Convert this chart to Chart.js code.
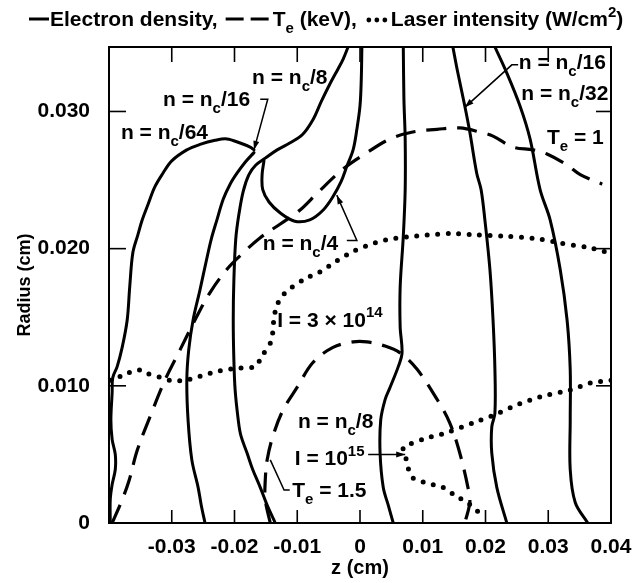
<!DOCTYPE html>
<html>
<head>
<meta charset="utf-8">
<script src="https://cdn.jsdelivr.net/npm/chart.js@4.4.1/dist/chart.umd.min.js"></script>
<style>
  html, body { margin: 0; padding: 0; background: #fff; }
  #wrap { width: 637px; height: 583px; }
</style>
</head>
<body>
<div id="wrap"><canvas id="chart" width="637" height="583"></canvas></div>
<script>
// contour lines, each point is [z (cm), radius (cm)]

// electron density contours (solid)
var nc64Left = [[-0.0398,0],[-0.0398,0.0017],[-0.0395,0.0028],[-0.0390,0.0039],[-0.0390,0.0050],[-0.0395,0.0061],[-0.0397,0.0075],[-0.0395,0.0095],[-0.0394,0.0106],[-0.0387,0.0114],[-0.0379,0.0128],[-0.0371,0.0148],[-0.0367,0.0172],[-0.0362,0.0197],[-0.0354,0.0210],[-0.0347,0.0221],[-0.0338,0.0232],[-0.0327,0.0245],[-0.0314,0.0255],[-0.0300,0.0264],[-0.0276,0.0272],[-0.0255,0.0276],[-0.0231,0.0279],[-0.0212,0.0280],[-0.0191,0.0277],[-0.0175,0.0274],[-0.0169,0.0272]];
var nc16Left = [[-0.0247,0],[-0.0253,0.0013],[-0.0258,0.0026],[-0.0268,0.0046],[-0.0274,0.0075],[-0.0276,0.0104],[-0.0273,0.0126],[-0.0266,0.0148],[-0.0255,0.0170],[-0.0245,0.0191],[-0.0237,0.0207],[-0.0228,0.0221],[-0.0218,0.0236],[-0.0207,0.0247],[-0.0196,0.0255],[-0.0183,0.0263],[-0.0169,0.0270]];
var nc8Left = [[-0.0135,0],[-0.0148,0.0013],[-0.0159,0.0026],[-0.0171,0.0039],[-0.0180,0.0051],[-0.0190,0.0064],[-0.0194,0.0075],[-0.0199,0.0097],[-0.0201,0.0119],[-0.0202,0.0148],[-0.0201,0.0177],[-0.0198,0.0207],[-0.0193,0.0225],[-0.0186,0.0242],[-0.0177,0.0254],[-0.0166,0.0261],[-0.0151,0.0266],[-0.0132,0.0272],[-0.0112,0.0277],[-0.0092,0.0283],[-0.0075,0.0294],[-0.0062,0.0307],[-0.0048,0.0320],[-0.0035,0.0331],[-0.0027,0.0338],[-0.0019,0.0347]];
var nc4Loop = [[0.0003,0.0347],[0.0002,0.0323],[0.0000,0.0304],[-0.0005,0.0287],[-0.0011,0.0272],[-0.0021,0.0260],[-0.0030,0.0249],[-0.0043,0.0238],[-0.0059,0.0228],[-0.0080,0.0221],[-0.0104,0.0220],[-0.0127,0.0226],[-0.0145,0.0234],[-0.0155,0.0243],[-0.0156,0.0254],[-0.0153,0.0264]];
var nc8Right = [[0.0053,0],[0.0045,0.0013],[0.0037,0.0026],[0.0032,0.0051],[0.0033,0.0075],[0.0040,0.0090],[0.0048,0.0099],[0.0061,0.0114],[0.0067,0.0124],[0.0064,0.0143],[0.0064,0.0172],[0.0069,0.0209],[0.0072,0.0243],[0.0072,0.0280],[0.0070,0.0309],[0.0069,0.0347]];
var nc16Right = [[0.0234,0],[0.0218,0.0026],[0.0210,0.0051],[0.0210,0.0070],[0.0215,0.0080],[0.0215,0.0112],[0.0212,0.0148],[0.0207,0.0185],[0.0199,0.0221],[0.0193,0.0243],[0.0186,0.0255],[0.0175,0.0285],[0.0167,0.0304],[0.0156,0.0328],[0.0148,0.0347]];
var nc32Right = [[0.0363,0],[0.0343,0.0015],[0.0335,0.0039],[0.0335,0.0075],[0.0335,0.0112],[0.0330,0.0148],[0.0319,0.0185],[0.0303,0.0221],[0.0287,0.0243],[0.0271,0.0280],[0.0255,0.0304],[0.0234,0.0328],[0.0215,0.0347]];

// electron temperature contours (dashed)
var te1 = [[-0.0395,0],[-0.0379,0.0017],[-0.0368,0.0031],[-0.0355,0.0053],[-0.0335,0.0077],[-0.0311,0.0104],[-0.0287,0.0126],[-0.0263,0.0148],[-0.0239,0.0168],[-0.0212,0.0185],[-0.0186,0.0197],[-0.0159,0.0208],[-0.0127,0.0218],[-0.0096,0.0228],[-0.0067,0.0241],[-0.0027,0.0258],[0.0011,0.0270],[0.0048,0.0280],[0.0084,0.0285],[0.0123,0.0287],[0.0159,0.0288],[0.0191,0.0285],[0.0212,0.0282],[0.0244,0.0274],[0.0276,0.0272],[0.0298,0.0269],[0.0330,0.0261],[0.0351,0.0254],[0.0386,0.0247]];
var te15 = [[-0.0143,0],[-0.0151,0.0017],[-0.0151,0.0031],[-0.0148,0.0046],[-0.0139,0.0063],[-0.0123,0.0082],[-0.0100,0.0099],[-0.0075,0.0117],[-0.0043,0.0128],[-0.0011,0.0132],[0.0011,0.0132],[0.0040,0.0129],[0.0064,0.0124],[0.0091,0.0112],[0.0123,0.0090],[0.0143,0.0073],[0.0159,0.0051],[0.0172,0.0026],[0.0175,0.0015],[0.0167,0]];

// laser intensity contours (dotted)
var laser3e14 = [[-0.0398,0.0104],[-0.0371,0.0109],[-0.0355,0.0112],[-0.0339,0.0109],[-0.0324,0.0107],[-0.0303,0.0104],[-0.0279,0.0104],[-0.0255,0.0107],[-0.0223,0.0111],[-0.0191,0.0113],[-0.0167,0.0114],[-0.0156,0.0122],[-0.0143,0.0131],[-0.0139,0.0139],[-0.0137,0.0150],[-0.0132,0.0159],[-0.0123,0.0166],[-0.0108,0.0172],[-0.0088,0.0178],[-0.0064,0.0183],[-0.0037,0.0191],[-0.0011,0.0198],[0.0016,0.0203],[0.0048,0.0207],[0.0084,0.0209],[0.0107,0.0210],[0.0143,0.0211],[0.0186,0.0210],[0.0234,0.0209],[0.0287,0.0207],[0.0319,0.0204],[0.0362,0.0201],[0.0398,0.0197]];
var laser1e15 = [[0.0400,0.0104],[0.0367,0.0102],[0.0335,0.0097],[0.0287,0.0092],[0.0244,0.0085],[0.0215,0.0079],[0.0180,0.0073],[0.0139,0.0066],[0.0100,0.0061],[0.0069,0.0055],[0.0072,0.0050],[0.0076,0.0041],[0.0084,0.0033],[0.0107,0.0029],[0.0132,0.0026],[0.0155,0.0019],[0.0171,0.0015],[0.0186,0.0009],[0.0199,0.0004]];

// axes
var xTickValues = [-0.03, -0.02, -0.01, 0, 0.01, 0.02, 0.03, 0.04];
var xTickLabels = ['-0.03', '-0.02', '-0.01', '0', '0.01', '0.02', '0.03', '0.04'];
var yTickValues = [0, 0.01, 0.02, 0.03];
var yTickLabels = ['0', '0.010', '0.020', '0.030'];

// in-plot labels: [z, r] of the text's left end on its baseline
var plotLabels = [
  { at: [-0.0381, 0.0280], parts: [['n = n'], ['c', 'sub'], ['/64']] },
  { at: [-0.0314, 0.0304], parts: [['n = n'], ['c', 'sub'], ['/16']] },
  { at: [-0.0172, 0.0320], parts: [['n = n'], ['c', 'sub'], ['/8']] },
  { at: [0.0253, 0.0331], parts: [['n = n'], ['c', 'sub'], ['/16']] },
  { at: [0.0257, 0.0308], parts: [['n = n'], ['c', 'sub'], ['/32']] },
  { at: [0.0298, 0.0276], parts: [['T'], ['e', 'sub'], [' = 1']] },
  { at: [-0.0155, 0.0199], parts: [['n = n'], ['c', 'sub'], ['/4']] },
  { at: [-0.0132, 0.0143], parts: [['I = 3 \u00D7 10'], ['14', 'sup']] },
  { at: [-0.0099, 0.0069], parts: [['n = n'], ['c', 'sub'], ['/8']] },
  { at: [-0.0104, 0.0042], parts: [['I = 10'], ['15', 'sup']] },
  { at: [-0.0108, 0.0019], parts: [['T'], ['e', 'sub'], [' = 1.5']] }
];
var leaderLines = [
  { pts: [[-0.0159, 0.0309], [-0.0147, 0.0309], [-0.0169, 0.0272]], arrow: true },
  { pts: [[0.0252, 0.0334], [0.0242, 0.0334], [0.0167, 0.0303]], arrow: true },
  { pts: [[-0.0021, 0.0206], [-0.0005, 0.0206], [-0.0037, 0.0239]], arrow: true },
  { pts: [[0.0013, 0.0050], [0.0072, 0.0050]], arrow: true },
  { pts: [[-0.0112, 0.0024], [-0.0121, 0.0024], [-0.0143, 0.0046]], arrow: false }
];

var FONT = '"Liberation Sans", Arial, Helvetica, sans-serif';

function toPts(arr) {
  return arr.map(function (p) { return { x: p[0], y: p[1] }; });
}

function solid(arr) {
  return { data: toPts(arr), showLine: true, borderColor: '#000', borderWidth: 3, pointRadius: 0,
    tension: 0.35, borderCapStyle: 'round', borderJoinStyle: 'round', fill: false };
}
function dashed(arr) {
  return { data: toPts(arr), showLine: true, borderColor: '#000', borderWidth: 3.2, pointRadius: 0,
    tension: 0.35, borderDash: [20, 11], borderCapStyle: 'butt', fill: false };
}
function dotted(arr) {
  return { data: toPts(arr), showLine: true, borderColor: '#000', borderWidth: 5, pointRadius: 0,
    tension: 0.25, borderDash: [0, 10.5], borderCapStyle: 'round', fill: false };
}

function drawRich(ctx, x, y, parts, size, weight) {
  parts.forEach(function (p) {
    var small = p[1] === 'sub' || p[1] === 'sup';
    var s = small ? Math.round(size * 0.72) : size;
    ctx.font = weight + ' ' + s + 'px ' + FONT;
    var dy = p[1] === 'sub' ? size * 0.32 : (p[1] === 'sup' ? -size * 0.45 : 0);
    ctx.fillText(p[0], x, y + dy);
    x += ctx.measureText(p[0]).width;
  });
  return x;
}

function seg(ctx, x1, y1, x2, y2) {
  ctx.beginPath();
  ctx.moveTo(x1, y1);
  ctx.lineTo(x2, y2);
  ctx.stroke();
}

// legend line above the plot, laid out like the printed key
function drawLegend(ctx) {
  var y = 26, size = 21, x = 29;
  ctx.fillStyle = '#000';
  ctx.strokeStyle = '#000';
  ctx.textBaseline = 'alphabetic';
  ctx.textAlign = 'left';
  ctx.lineWidth = 3;
  seg(ctx, x, y - 7, x + 20, y - 7);
  x = drawRich(ctx, x + 21, y, [['Electron density,']], size, 'bold');
  x += 8;
  seg(ctx, x, y - 7, x + 18, y - 7);
  seg(ctx, x + 25, y - 7, x + 43, y - 7);
  x = drawRich(ctx, x + 47, y, [['T'], ['e', 'sub'], [' (keV),']], size, 'bold');
  x += 9;
  for (var i = 0; i < 3; i++) {
    ctx.beginPath();
    ctx.arc(x + 3 + i * 8, y - 6, 2.4, 0, Math.PI * 2);
    ctx.fill();
  }
  drawRich(ctx, x + 25, y, [['Laser intensity (W/cm'], ['2', 'sup'], [')']], size, 'bold');
}

var paperPlugin = {
  id: 'paper',
  afterDraw: function (chart) {
    var ctx = chart.ctx, a = chart.chartArea, xs = chart.scales.x, ys = chart.scales.y;
    ctx.save();
    ctx.strokeStyle = '#000';
    ctx.fillStyle = '#000';
    ctx.lineWidth = 2;
    ctx.strokeRect(a.left, a.top, a.right - a.left, a.bottom - a.top);

    // tick marks point inward on all four sides
    ctx.lineWidth = 1.6;
    xTickValues.forEach(function (v) {
      var px = xs.getPixelForValue(v);
      if (px <= a.left + 2 || px >= a.right - 2) return;
      seg(ctx, px, a.bottom, px, a.bottom - 13);
      seg(ctx, px, a.top, px, a.top + 15);
    });
    yTickValues.forEach(function (v) {
      var py = ys.getPixelForValue(v);
      if (py >= a.bottom - 2 || py <= a.top + 2) return;
      seg(ctx, a.left, py, a.left + 17, py);
      seg(ctx, a.right, py, a.right - 15, py);
    });

    // leader lines and arrows
    ctx.lineWidth = 1.5;
    leaderLines.forEach(function (l) {
      var pts = l.pts.map(function (p) { return [xs.getPixelForValue(p[0]), ys.getPixelForValue(p[1])]; });
      ctx.beginPath();
      ctx.moveTo(pts[0][0], pts[0][1]);
      for (var i = 1; i < pts.length; i++) ctx.lineTo(pts[i][0], pts[i][1]);
      ctx.stroke();
      if (l.arrow) {
        var e = pts[pts.length - 1], s = pts[pts.length - 2];
        var ang = Math.atan2(e[1] - s[1], e[0] - s[0]);
        ctx.beginPath();
        ctx.moveTo(e[0], e[1]);
        ctx.lineTo(e[0] - 9 * Math.cos(ang) + 3 * Math.sin(ang), e[1] - 9 * Math.sin(ang) - 3 * Math.cos(ang));
        ctx.lineTo(e[0] - 9 * Math.cos(ang) - 3 * Math.sin(ang), e[1] - 9 * Math.sin(ang) + 3 * Math.cos(ang));
        ctx.closePath();
        ctx.fill();
      }
    });

    // in-plot labels
    ctx.textBaseline = 'alphabetic';
    ctx.textAlign = 'left';
    plotLabels.forEach(function (lb) {
      drawRich(ctx, xs.getPixelForValue(lb.at[0]), ys.getPixelForValue(lb.at[1]), lb.parts, 21, 'bold');
    });

    drawLegend(ctx);
    ctx.restore();
  }
};

Chart.defaults.color = '#000';

new Chart(document.getElementById('chart'), {
  type: 'scatter',
  data: {
    datasets: [
      solid(nc64Left), solid(nc16Left), solid(nc8Left), solid(nc4Loop),
      solid(nc8Right), solid(nc16Right), solid(nc32Right),
      dashed(te1), dashed(te15),
      dotted(laser3e14), dotted(laser1e15)
    ]
  },
  options: {
    responsive: false,
    animation: false,
    events: [],
    layout: { padding: { top: 47, right: 26, bottom: 0, left: 0 } },
    plugins: {
      legend: { display: false },
      tooltip: { enabled: false }
    },
    scales: {
      x: {
        type: 'linear',
        min: -0.04,
        max: 0.04,
        grid: { display: false },
        border: { display: false },
        afterBuildTicks: function (s) { s.ticks = xTickValues.map(function (v) { return { value: v }; }); },
        afterFit: function (s) { s.height = 60; },
        ticks: {
          padding: 4,
          maxRotation: 0,
          autoSkip: false,
          font: { family: FONT, size: 21, weight: 'bold' },
          callback: function (v) { var i = xTickValues.indexOf(v); return i < 0 ? '' : xTickLabels[i]; }
        },
        title: {
          display: true,
          text: 'z (cm)',
          font: { family: FONT, size: 20, weight: 'bold' },
          padding: { top: 0, bottom: 3 }
        }
      },
      y: {
        type: 'linear',
        min: 0,
        max: 0.0347,
        grid: { display: false },
        border: { display: false },
        afterBuildTicks: function (s) { s.ticks = yTickValues.map(function (v) { return { value: v }; }); },
        afterFit: function (s) { s.width = 109; },
        ticks: {
          padding: 11,
          autoSkip: false,
          font: { family: FONT, size: 21, weight: 'bold' },
          callback: function (v) { var i = yTickValues.indexOf(v); return i < 0 ? '' : yTickLabels[i]; }
        },
        title: {
          display: true,
          text: 'Radius (cm)',
          font: { family: FONT, size: 18, weight: 'bold' },
          padding: { top: 14, bottom: 0 }
        }
      }
    }
  },
  plugins: [paperPlugin]
});
</script>
</body>
</html>
